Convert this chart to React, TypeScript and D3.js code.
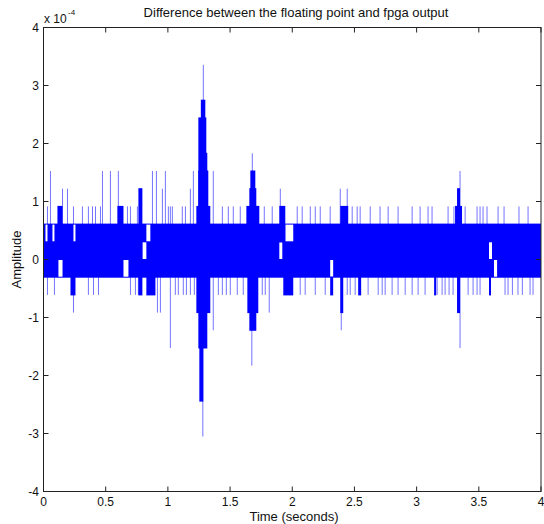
import React from "react";
import * as d3 from "d3";

// quantisation step of the fpga output (1 LSB = 2^-15)
const LSB = 1 / 32768;

const xTicks = [0, 0.5, 1, 1.5, 2, 2.5, 3, 3.5, 4];
const xTickLabels = ["0", "0.5", "1", "1.5", "2", "2.5", "3", "3.5", "4"];
const yTicks = [-4, -3, -2, -1, 0, 1, 2, 3, 4];
const yTickLabels = ["-4", "-3", "-2", "-1", "0", "1", "2", "3", "4"];

// dense band of the error signal: [tStart, tEnd, lowLevel, highLevel] (levels in LSB)
const baseBand: [number, number, number, number][] = [[0, 4, -1, 2]];

// parts of the band where the signal does not go: [t0, t1, lo, hi]
const notches: [number, number, number, number][] = [
  [0.016, 0.032, 1, 2],
  [0.072, 0.088, 1, 2],
  [0.12, 0.153, -1, 0],
  [0.241, 0.257, 1, 2],
  [0.643, 0.683, -1, 0],
  [0.795, 0.827, 0, 1],
  [0.827, 0.859, 1, 2],
  [1.896, 1.92, 0, 1],
  [1.944, 2.008, 1, 2],
  [2.305, 2.329, -1, 0],
  [3.582, 3.606, 0, 1],
  [3.622, 3.647, -1, 0],
];

// solid bursts where many consecutive samples exceed the band: [t0, t1, lo, hi]
const bursts: [number, number, number, number][] = [
  [0.112, 0.153, 1, 3],
  [0.217, 0.257, -2, 0],
  [0.594, 0.643, 1, 3],
  [0.763, 0.795, -2, 4],
  [0.827, 0.9, -2, 0],
  [1.229, 1.341, 0, 3],
  [1.245, 1.325, 0, 5],
  [1.253, 1.317, 0, 6],
  [1.245, 1.309, 0, 8],
  [1.265, 1.301, 0, 9],
  [1.229, 1.341, -3, 0],
  [1.245, 1.317, -5, 0],
  [1.253, 1.285, -8, 0],
  [1.631, 1.735, 0, 3],
  [1.655, 1.711, 0, 4],
  [1.663, 1.703, 0, 5],
  [1.639, 1.727, -3, 0],
  [1.655, 1.711, -4, 0],
  [1.896, 1.944, 1, 3],
  [1.928, 2.008, -2, 0],
  [2.305, 2.329, -2, -1],
  [2.386, 2.45, 1, 3],
  [2.386, 2.41, -3, 0],
  [2.53, 2.554, -2, 0],
  [3.141, 3.157, -2, 0],
  [3.309, 3.365, 1, 3],
  [3.325, 3.349, 1, 4],
  [3.325, 3.349, -3, 0],
  [3.582, 3.598, -2, 0],
];

// isolated positive samples (time s, level LSB)
const upTimes = [
  0.032, 0.056, 0.153, 0.193, 0.241, 0.313, 0.361, 0.394, 0.418, 0.458, 0.474,
  0.538, 0.602, 0.675, 0.699, 0.755, 0.779, 0.876, 0.908, 0.956, 0.98, 1.004,
  1.02, 1.036, 1.116, 1.141, 1.181, 1.205, 1.285, 1.365, 1.438, 1.486, 1.526,
  1.582, 1.679, 1.719, 1.775, 1.839, 1.904, 2.04, 2.08, 2.145, 2.185, 2.225,
  2.305, 2.386, 2.442, 2.482, 2.522, 2.546, 2.627, 2.706, 2.771, 2.851, 2.964,
  3.028, 3.092, 3.124, 3.253, 3.3, 3.349, 3.39, 3.486, 3.51, 3.534, 3.566,
  3.655, 3.703, 3.823, 3.896,
];
const upLevels = [
  3, 5, 4, 4, 3, 3, 3, 3, 3, 3, 5,
  5, 5, 3, 3, 3, 4, 5, 5, 4, 5, 3,
  3, 3, 3, 3, 4, 5, 11, 5, 3, 3, 3,
  3, 6, 3, 3, 3, 4, 3, 3, 3, 3, 3,
  3, 4, 4, 3, 3, 3, 3, 3, 3, 3, 3,
  3, 3, 3, 3, 3, 5, 3, 3, 3, 3, 3,
  3, 3, 3, 3,
];

// isolated negative samples (time s, level LSB)
const downTimes = [
  0.032, 0.088, 0.241, 0.361, 0.402, 0.442, 0.699, 0.739, 0.763, 0.916, 0.94,
  1.02, 1.06, 1.084, 1.124, 1.149, 1.181, 1.213, 1.281, 1.365, 1.406, 1.438,
  1.47, 1.502, 1.558, 1.606, 1.675, 1.759, 1.783, 1.815, 2.064, 2.104, 2.185,
  2.265, 2.394, 2.442, 2.466, 2.506, 2.61, 2.691, 2.723, 2.747, 2.803, 2.851,
  2.908, 2.964, 3.012, 3.068, 3.149, 3.165, 3.205, 3.229, 3.261, 3.293, 3.349,
  3.414, 3.454, 3.486, 3.51, 3.711, 3.735, 3.77, 3.815, 3.85, 3.912, 3.936,
];
const downLevels = [
  -2, -2, -3, -2, -2, -2, -2, -2, -2, -3, -3,
  -5, -2, -2, -2, -2, -2, -2, -10, -4, -2, -2,
  -2, -2, -2, -2, -6, -2, -2, -3, -2, -2, -2,
  -2, -4, -2, -2, -2, -2, -2, -2, -2, -2, -2,
  -2, -2, -2, -2, -2, -2, -2, -2, -2, -2, -5,
  -2, -2, -2, -2, -2, -2, -2, -2, -2, -2, -2,
];

const W = 544;
const H = 524;
const LEFT = 43.5;
const RIGHT = 541;
const TOP = 27.5;
const BOTTOM = 491.5;
const BLUE = "#0000ff";
const FONT = "'Liberation Sans', Arial, Helvetica, sans-serif";

export default function App() {
  const x = d3.scaleLinear().domain([0, 4]).range([LEFT, RIGHT]);
  const y = d3.scaleLinear().domain([-4e-4, 4e-4]).range([BOTTOM, TOP]);
  const ly = (l: number) => y(l * LSB);
  const tickLen = 5;

  const rect = (r: [number, number, number, number], i: number, fill: string, pad: number) => (
    <rect
      key={i}
      x={x(r[0])}
      width={Math.max(1, x(r[1]) - x(r[0]))}
      y={ly(r[3]) - pad}
      height={ly(r[2]) - ly(r[3]) + 2 * pad}
      fill={fill}
    />
  );

  return (
    <svg
      width={W}
      height={H}
      style={{ position: "absolute", left: 0, top: 0, background: "#fff" }}
      fontFamily={FONT}
    >
      <rect x={0} y={0} width={W} height={H} fill="#fff" />
      <g>
        {baseBand.map((r, i) => rect(r, i, BLUE, 0.5))}
        {notches.map((r, i) => rect(r, i, "#fff", -0.5))}
        {bursts.map((r, i) => rect(r, i, BLUE, 0.5))}
        {upTimes.map((t, i) => (
          <line
            key={"u" + i}
            x1={x(t)}
            x2={x(t)}
            y1={ly(2)}
            y2={ly(upLevels[i])}
            stroke={BLUE}
            strokeWidth={1}
            strokeOpacity={0.55}
          />
        ))}
        {downTimes.map((t, i) => (
          <line
            key={"d" + i}
            x1={x(t)}
            x2={x(t)}
            y1={ly(-1)}
            y2={ly(downLevels[i])}
            stroke={BLUE}
            strokeWidth={1}
            strokeOpacity={0.55}
          />
        ))}
      </g>

      {/* axes box */}
      <rect x={LEFT} y={TOP} width={RIGHT - LEFT} height={BOTTOM - TOP} fill="none" stroke="#222" strokeWidth={1} />
      {xTicks.map((t, i) => (
        <g key={"xt" + i}>
          <line x1={x(t)} x2={x(t)} y1={BOTTOM} y2={BOTTOM - tickLen} stroke="#222" />
          <line x1={x(t)} x2={x(t)} y1={TOP} y2={TOP + tickLen} stroke="#222" />
          <text x={x(t)} y={506} fontSize={12} textAnchor="middle" fill="#111">
            {xTickLabels[i]}
          </text>
        </g>
      ))}
      {yTicks.map((v, i) => (
        <g key={"yt" + i}>
          <line x1={LEFT} x2={LEFT + tickLen} y1={y(v * 1e-4)} y2={y(v * 1e-4)} stroke="#222" />
          <line x1={RIGHT} x2={RIGHT - tickLen} y1={y(v * 1e-4)} y2={y(v * 1e-4)} stroke="#222" />
          <text x={39} y={y(v * 1e-4) + 4} fontSize={12} textAnchor="end" fill="#111">
            {yTickLabels[i]}
          </text>
        </g>
      ))}

      <text x={44} y={23} fontSize={12} fill="#111">
        x 10
      </text>
      <text x={68} y={15} fontSize={8} fill="#111">
        -4
      </text>

      <text x={296} y={17} fontSize={13} textAnchor="middle" fill="#111">
        Difference between the floating point and fpga output
      </text>
      <text x={294} y={521} fontSize={13} textAnchor="middle" fill="#111">
        Time (seconds)
      </text>
      <text
        transform={`translate(21, ${y(0)}) rotate(-90)`}
        fontSize={13}
        textAnchor="middle"
        fill="#111"
      >
        Amplitude
      </text>
    </svg>
  );
}
